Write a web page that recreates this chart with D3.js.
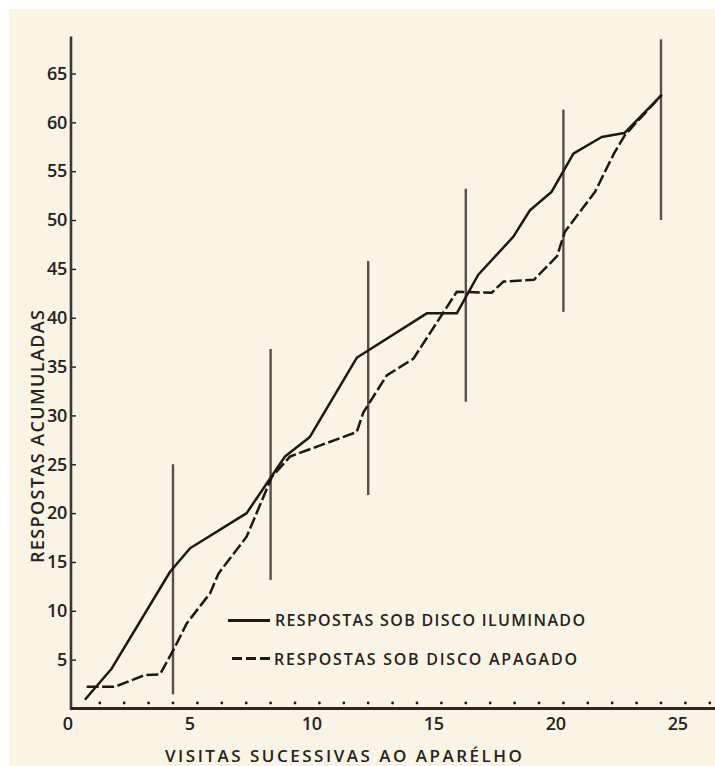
<!DOCTYPE html>
<html>
<head>
<meta charset="utf-8">
<script src="https://cdn.jsdelivr.net/npm/d3@7/dist/d3.min.js"></script>
<style>
  html, body { margin: 0; padding: 0; background: #ffffff; }
  svg { display: block; }
  text { font-family: "Open Sans", "DejaVu Sans", sans-serif; font-weight: 600; fill: #27221e; }
</style>
</head>
<body>
<svg id="chart" width="715" height="766"></svg>
<script>
// Cumulative responses per successive visit to the apparatus
// Disc lit (solid line): visit position and cumulative responses
const visitasIluminado = [0.89, 1.99, 4.38, 5.2, 7.52, 9.09, 10.11, 12.03, 14.9, 16.13, 17.01, 18.45, 19.13, 20.02, 20.91, 22.07, 23.0, 24.53];
const respostasIluminado = [0.9, 4.1, 14.0, 16.4, 20.0, 25.8, 27.8, 35.9, 40.45, 40.45, 44.4, 48.3, 51.0, 52.9, 56.8, 58.5, 58.9, 62.8];

// Disc off (dashed line)
const visitasApagado = [0.96, 2.12, 3.35, 3.97, 4.58, 5.06, 6.02, 6.36, 7.52, 8.55, 9.3, 12.03, 12.3, 13.26, 14.35, 16.13, 17.56, 18.04, 19.3, 20.24, 20.56, 21.8, 22.57, 23.02, 24.53];
const respostasApagado = [2.23, 2.23, 3.43, 3.5, 6.3, 8.7, 11.8, 13.8, 17.6, 23.7, 25.8, 28.3, 30.3, 34.1, 35.8, 42.66, 42.56, 43.7, 43.9, 46.3, 48.8, 52.9, 56.8, 58.7, 62.8];

// Range bars drawn at the end of each block of four visits
const blocoPosicao = [4.5, 8.5, 12.5, 16.5, 20.5, 24.5];
const blocoMinimo = [1.45, 13.15, 21.85, 31.4, 40.6, 50.0];
const blocoMaximo = [25.0, 36.8, 45.8, 53.2, 61.3, 68.5];

// Axis ticks
const yTicks = [5, 10, 15, 20, 25, 30, 35, 40, 45, 50, 55, 60, 65];
const xTicks = [0, 5, 10, 15, 20, 25];
const xDots = d3.range(1.5, 27, 1);

const legendLabels = ["RESPOSTAS SOB DISCO ILUMINADO", "RESPOSTAS SOB DISCO APAGADO"];
const xTitle = "VISITAS SUCESSIVAS AO APARÉLHO";
const yTitle = "RESPOSTAS ACUMULADAS";

const svg = d3.select("#chart");
const ink = "#1c1815";
const barInk = "#55504a";

// paper
svg.append("rect").attr("x", 9).attr("y", 9).attr("width", 706).attr("height", 757).attr("fill", "#f9f4e4");

const x = d3.scaleLinear().domain([0, 26.5]).range([63.2, 63.2 + 26.5 * 24.4]);
const y = d3.scaleLinear().domain([0, 65]).range([708.5, 73.5]);

const axisX = 71;
const axisY = y(0);

// Y axis
const yAxis = d3.axisLeft(y).tickValues(yTicks).tickSize(0).tickPadding(4);
const gy = svg.append("g").attr("transform", `translate(${axisX},0)`).call(yAxis);
gy.select(".domain").remove();
gy.selectAll(".tick line").attr("x1", 1).attr("x2", 5).attr("stroke", ink).attr("stroke-width", 1.4);
gy.selectAll(".tick text").attr("font-size", 18).attr("fill", "#27221e")
  .attr("font-family", "Open Sans").attr("letter-spacing", -0.3);
svg.append("line").attr("x1", axisX).attr("x2", axisX).attr("y1", y(68.8)).attr("y2", axisY + 1)
  .attr("stroke", "#3b3632").attr("stroke-width", 2.6);

// X axis
const xAxis = d3.axisBottom(x).tickValues(xTicks).tickSize(0).tickPadding(8.5);
const gx = svg.append("g").attr("transform", `translate(0,${axisY})`).call(xAxis);
gx.select(".domain").remove();
gx.selectAll(".tick text").attr("font-size", 18).attr("dx", 4).attr("fill", "#27221e")
  .attr("font-family", "Open Sans").attr("letter-spacing", -0.3);
svg.append("line").attr("x1", axisX - 1).attr("x2", 715).attr("y1", axisY).attr("y2", axisY)
  .attr("stroke", "#2a2622").attr("stroke-width", 3);

svg.append("g").selectAll("circle").data(xDots).join("circle")
  .attr("cx", d => x(d)).attr("cy", axisY - 5.5).attr("r", 1.4).attr("fill", ink);

// Range bars
svg.append("g").selectAll("line").data(blocoPosicao).join("line")
  .attr("x1", d => x(d)).attr("x2", d => x(d))
  .attr("y1", (d, i) => y(blocoMaximo[i])).attr("y2", (d, i) => y(blocoMinimo[i]))
  .attr("stroke", barInk).attr("stroke-width", 2.4);

// Curves
const line = d3.line().x(d => x(d[0])).y(d => y(d[1]));
const ptsIlum = visitasIluminado.map((v, i) => [v, respostasIluminado[i]]);
const ptsApag = visitasApagado.map((v, i) => [v, respostasApagado[i]]);

svg.append("path").attr("d", line(ptsApag)).attr("fill", "none").attr("stroke", ink)
  .attr("stroke-width", 2.5).attr("stroke-dasharray", "12,3.5").attr("stroke-linejoin", "round");
svg.append("path").attr("d", line(ptsIlum)).attr("fill", "none").attr("stroke", ink)
  .attr("stroke-width", 2.5).attr("stroke-linejoin", "round");

// Legend
const legend = svg.append("g");
legend.append("line").attr("x1", 228).attr("x2", 270).attr("y1", 620.5).attr("y2", 620.5)
  .attr("stroke", ink).attr("stroke-width", 2.8);
legend.append("line").attr("x1", 232).attr("x2", 273).attr("y1", 658.5).attr("y2", 658.5)
  .attr("stroke", ink).attr("stroke-width", 2.8).attr("stroke-dasharray", "10,4");
legend.append("text").attr("x", 275).attr("y", 626).attr("font-size", 16)
  .attr("textLength", 310).attr("lengthAdjust", "spacing").text(legendLabels[0]);
legend.append("text").attr("x", 274).attr("y", 665).attr("font-size", 16)
  .attr("textLength", 303).attr("lengthAdjust", "spacing").text(legendLabels[1]);

// Axis titles
svg.append("text").attr("x", 165).attr("y", 762).attr("font-size", 17)
  .attr("textLength", 357).attr("lengthAdjust", "spacing").text(xTitle);
svg.append("text").attr("transform", "translate(44,563) rotate(-90)").attr("font-size", 18)
  .attr("textLength", 253).attr("lengthAdjust", "spacing").text(yTitle);
</script>
</body>
</html>
